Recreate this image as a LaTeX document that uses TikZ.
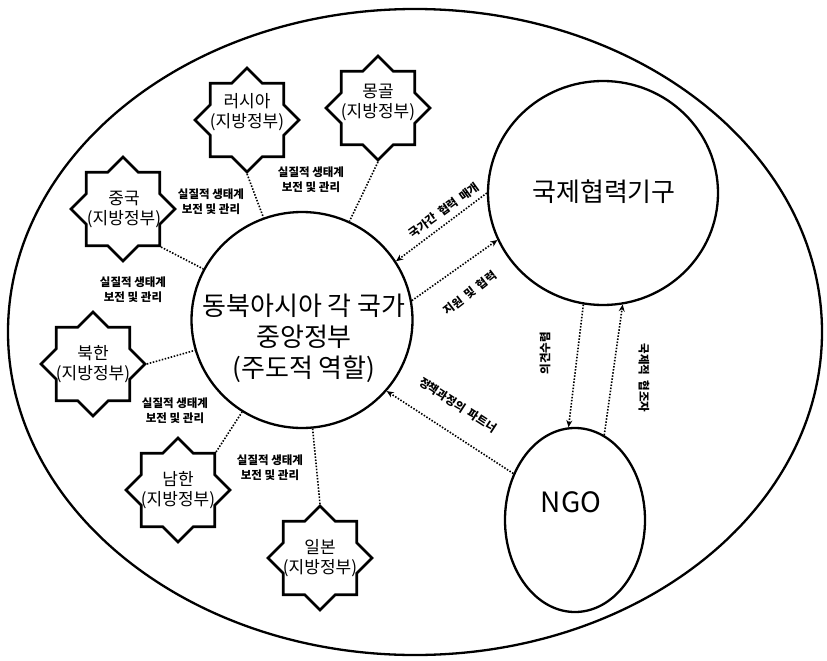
\documentclass[tikz,border=0pt]{standalone}
\usepackage{fontspec}
\setmainfont{Noto Sans CJK KR}
\usetikzlibrary{shapes.geometric,arrows.meta}
\newcommand\wgap{\hspace{5pt}}
\begin{document}
\begin{tikzpicture}[x=1pt,y=-1pt,
  starbox/.style={star, star points=8, star point ratio=1.307, minimum size=104pt, inner sep=0pt, draw, line width=2.6pt},
  startext/.style={align=center, font=\fontsize{17}{20}\selectfont, inner sep=0pt},
  conn/.style={line width=1.6pt, dash pattern=on 1.5pt off 1.6pt},
  arr/.style={conn, -{Stealth[length=7pt,width=6pt]}},
  lab/.style={align=center, font=\bfseries\fontsize{11.5}{15}\selectfont, inner sep=0pt},
  alab/.style={font=\bfseries\fontsize{11.5}{13}\selectfont, inner sep=0pt},
  bigc/.style={ellipse, draw, line width=2.3pt, inner sep=0pt}
]
\useasboundingbox (0,0) rectangle (827,661);
\fill[white] (0,0) rectangle (827,661);

% outer ellipse
\node[bigc, minimum width=814pt, minimum height=646pt] (outer) at (415,332) {};

% central government
\node[bigc, minimum width=221pt, minimum height=216pt] (cg) at (302,320) {};
\node[align=center, font=\fontsize{26}{31}\selectfont, inner sep=0pt] (cgt) at (304,338) {동북아시아 각 국가\\중앙정부\\(주도적 역할)};

% international organisation
\node[bigc, minimum width=230pt, minimum height=224pt] (rc) at (603,193) {};
\node[font=\fontsize{26}{28}\selectfont, inner sep=0pt] (rct) at (604,192) {국제협력기구};

% NGO
\node[bigc, minimum width=140pt, minimum height=184pt] (ngo) at (575,520) {};
\node[font=\fontsize{28}{30}\selectfont, inner sep=0pt] (ngot) at (571,502) {NGO};

% local governments (stars)
\node[starbox] (cn) at (123,209) {};
\node[startext] (cnt) at (124,209) {중국\\(지방정부)};
\node[starbox] (ru) at (247,120) {};
\node[startext] (rut) at (247,112) {러시아\\(지방정부)};
\node[starbox] (mn) at (378,108) {};
\node[startext] (mnt) at (378,102) {몽골\\(지방정부)};
\node[starbox] (nk) at (93,364) {};
\node[startext] (nkt) at (93,364) {북한\\(지방정부)};
\node[starbox] (sk) at (178,490) {};
\node[startext] (skt) at (178,490) {남한\\(지방정부)};
\node[starbox] (jp) at (320,558) {};
\node[startext] (jpt) at (320,558) {일본\\(지방정부)};

% connectors star -> centre
\draw[conn] (cn.-45) -- (cg);
\draw[conn] (ru.-90) -- (cg);
\draw[conn] (mn.-90) -- (cg);
\draw[conn] (nk.0) -- (cg);
\draw[conn] (sk.45) -- (cg);
\draw[conn] (jp.90) -- (cg);

% connector labels
\node[lab] (l1) at (311,180) {실질적 생태계\\보전 및 관리};
\node[lab] (l2) at (211,202) {실질적 생태계\\보전 및 관리};
\node[lab] (l3) at (133,290) {실질적 생태계\\보전 및 관리};
\node[lab] (l4) at (175,411) {실질적 생태계\\보전 및 관리};
\node[lab] (l5) at (270,468) {실질적 생태계\\보전 및 관리};

% arrows between organisations
\draw[arr] (rc.180) -- (cg.32);
\draw[arr] (cg.10) -- (rc.204);
\draw[arr] (ngo.143) -- (cg.-40);
\draw[arr] (rc.-100) -- (ngo.94);
\draw[arr] (ngo.71) -- (rc.-80.5);

% arrow labels
\node[alab, rotate=36] (a1) at (444,210) {국가간\wgap 협력\wgap 매개};
\node[alab, rotate=38] (a2) at (470,293) {지원\wgap 및\wgap 협력};
\node[alab, rotate=-33] (a3) at (458,405) {정책과정의\wgap 파트너};
\node[alab, rotate=90] (a4) at (545,353) {의견수렴};
\node[alab, rotate=-90] (a5) at (644,378) {국제적\wgap 협조자};
\end{tikzpicture}
\end{document}
